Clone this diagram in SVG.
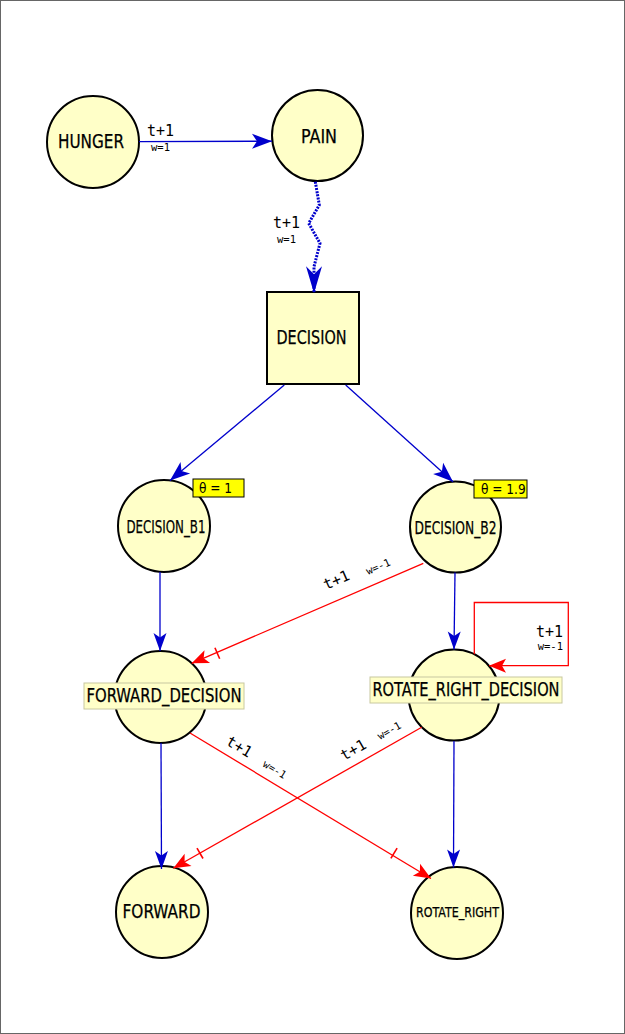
<svg xmlns="http://www.w3.org/2000/svg" width="625" height="1034" viewBox="0 0 625 1034">
<style>
.node{fill:#ffffc8;stroke:#000;stroke-width:2}
.lbl{font-family:"DejaVu Sans Condensed","DejaVu Sans",sans-serif;font-stretch:condensed;fill:#000;stroke:#000;stroke-width:0.25;text-anchor:middle}
.lblbox{fill:#ffffc8;stroke:#c8c8a0;stroke-width:1}
.theta{fill:#ffff00;stroke:#000;stroke-width:1}
.thetat{font-family:"DejaVu Sans Condensed","DejaVu Sans",sans-serif;font-stretch:condensed;font-size:13.5px;fill:#000}
.blue{fill:none;stroke:#0000cc;stroke-width:1.3}
.red{fill:none;stroke:#ff0000;stroke-width:1.3}
.tick{stroke:#ff0000;stroke-width:1.6}
.el{font-family:"DejaVu Sans Mono","Liberation Mono",monospace;font-size:15px;fill:#000}
.ew{font-family:"DejaVu Sans Mono","Liberation Mono",monospace;font-size:10.5px;fill:#000}
</style>
<defs>
<marker id="ab" markerUnits="userSpaceOnUse" viewBox="-21 -9 22 18" refX="0" refY="0" markerWidth="22" markerHeight="18" orient="auto">
<path d="M0,0 L-20,-7.5 L-15,0 L-20,7.5 Z" fill="#0000cc"/>
</marker>
<marker id="abs" markerUnits="userSpaceOnUse" viewBox="-19 -8 20 16" refX="0" refY="0" markerWidth="20" markerHeight="16" orient="auto">
<path d="M0,0 L-18,-6.5 L-13.5,0 L-18,6.5 Z" fill="#0000cc"/>
</marker>
<marker id="abl" markerUnits="userSpaceOnUse" viewBox="-28 -9 29 18" refX="0" refY="0" markerWidth="29" markerHeight="18" orient="auto">
<path d="M0,0 L-27,-8 L-19,0 L-27,8 Z" fill="#0000cc"/>
</marker>
<marker id="ar" markerUnits="userSpaceOnUse" viewBox="-18 -8 19 16" refX="0" refY="0" markerWidth="19" markerHeight="16" orient="auto">
<path d="M0,0 L-17,-7 L-13,0 L-17,7 Z" fill="#ff0000"/>
</marker>
</defs>
<rect x="0.5" y="0.5" width="624" height="1033" fill="#fff" stroke="#666" stroke-width="1"/>

<g id="HUNGER">
<circle class="node" cx="93" cy="142" r="46"/>
<text class="lbl" x="91" y="148" font-size="20" textLength="66" lengthAdjust="spacingAndGlyphs">HUNGER</text>
</g>
<g id="PAIN">
<circle class="node" cx="317.5" cy="135.5" r="45.5"/>
<text class="lbl" x="319" y="143" font-size="20" textLength="36" lengthAdjust="spacingAndGlyphs">PAIN</text>
</g>
<g id="DECISION">
<rect class="node" x="267" y="292" width="92" height="92"/>
<text class="lbl" x="311.5" y="344" font-size="20" textLength="70" lengthAdjust="spacingAndGlyphs">DECISION</text>
</g>
<g id="DECISION_B1">
<circle class="node" cx="164" cy="526" r="46"/>
<text class="lbl" x="166" y="533" font-size="18" textLength="79" lengthAdjust="spacingAndGlyphs">DECISION_B1</text>
<rect class="theta" x="193" y="479" width="51" height="18"/>
<text class="thetat" x="199" y="493">θ = 1</text>
</g>
<g id="DECISION_B2">
<circle class="node" cx="455.5" cy="527" r="45.5"/>
<text class="lbl" x="455.5" y="534" font-size="18" textLength="82" lengthAdjust="spacingAndGlyphs">DECISION_B2</text>
<rect class="theta" x="474" y="480" width="53" height="18"/>
<text class="thetat" x="481" y="494">θ = 1.9</text>
</g>
<g id="FORWARD_DECISION">
<circle class="node" cx="160.5" cy="697" r="46"/>
<rect class="lblbox" x="84" y="683" width="160" height="26"/>
<text class="lbl" x="164" y="702" font-size="19" textLength="155" lengthAdjust="spacingAndGlyphs">FORWARD_DECISION</text>
</g>
<g id="ROTATE_RIGHT_DECISION">
<circle class="node" cx="454" cy="695" r="45.5"/>
<rect class="lblbox" x="370" y="677" width="192" height="26"/>
<text class="lbl" x="466" y="696" font-size="19" textLength="187" lengthAdjust="spacingAndGlyphs">ROTATE_RIGHT_DECISION</text>
</g>
<g id="FORWARD">
<circle class="node" cx="162" cy="912" r="46"/>
<text class="lbl" x="161.5" y="918" font-size="19" textLength="78" lengthAdjust="spacingAndGlyphs">FORWARD</text>
</g>
<g id="ROTATE_RIGHT">
<circle class="node" cx="457" cy="913" r="46"/>
<text class="lbl" x="457.5" y="917" font-size="14" textLength="83" lengthAdjust="spacingAndGlyphs">ROTATE_RIGHT</text>
</g>

<g id="connectors">
<path class="blue" d="M139,141.7 L272,141.2" stroke-width="2" marker-end="url(#ab)"/>
<text class="el" x="147" y="136">t+1</text>
<text class="ew" x="151" y="150.5">w=1</text>

<path d="M315.3,181.7 L319.3,205 L308.7,223.3 L320,243.3 L314,266.7 L314,293.3" fill="none" stroke="#0000cc" stroke-width="3" stroke-dasharray="2,1.2" marker-end="url(#abl)"/>
<text class="el" x="273" y="228">t+1</text>
<text class="ew" x="277" y="243">w=1</text>

<path class="blue" d="M284.3,385 L170,480.5" marker-end="url(#ab)"/>
<path class="blue" d="M345.7,385 L453,481.7" marker-end="url(#ab)"/>

<path class="blue" d="M160,572 L160,651" marker-end="url(#abs)"/>
<path class="blue" d="M455,572.5 L454,649.5" marker-end="url(#abs)"/>
<path class="blue" d="M161,743 L161.5,869" marker-end="url(#abs)"/>
<path class="blue" d="M454,741 L453.5,867.5" marker-end="url(#abs)"/>

<path class="red" d="M423.3,563.3 L191.7,663.3" marker-end="url(#ar)"/>
<line class="tick" x1="219.7" y1="658.8" x2="214.9" y2="647.8"/>
<text class="el" transform="translate(326,590) rotate(-23.4)">t+1</text>
<text class="ew" transform="translate(368,575) rotate(-23.4)">w=-1</text>

<path class="red" d="M190,733 L431,878.5" marker-end="url(#ar)"/>
<line class="tick" x1="390.9" y1="858.4" x2="397.1" y2="848.2"/>
<text class="el" transform="translate(225,744) rotate(31.2)">t+1</text>
<text class="ew" transform="translate(262,766) rotate(31.2)">w=-1</text>

<path class="red" d="M421.7,727.3 L173.3,868.3" marker-end="url(#ar)"/>
<line class="tick" x1="203" y1="858.5" x2="197" y2="848.1"/>
<text class="el" transform="translate(344,761) rotate(-29.6)">t+1</text>
<text class="ew" transform="translate(380,740) rotate(-29.6)">w=-1</text>

<path class="red" d="M474.3,654.3 L474.3,602.5 L568.3,602.5 L568.3,665.7 L489,665.7" marker-end="url(#ar)"/>
<text class="el" x="563" y="637" text-anchor="end" font-size="14">t+1</text>
<text class="ew" x="563" y="649.5" text-anchor="end">w=-1</text>
</g>
</svg>
